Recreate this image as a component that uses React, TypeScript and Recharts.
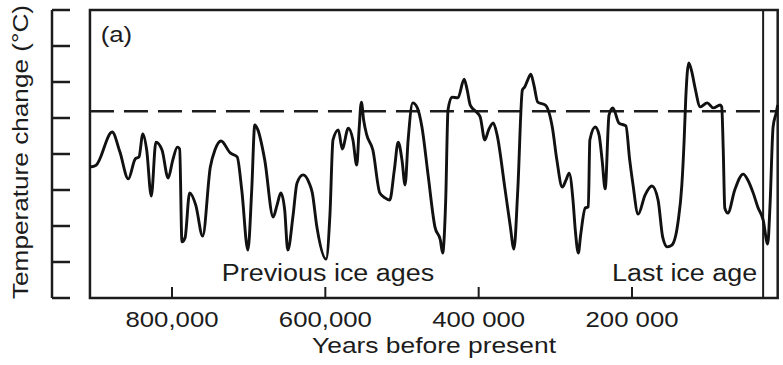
import React from 'react';
import {
  ComposedChart,
  Line,
  XAxis,
  YAxis,
  ReferenceLine,
  ReferenceArea,
  ReferenceDot,
} from 'recharts';

// Years before present, in thousands (left = oldest)
const years = [
  907, 899, 878, 868, 857, 848, 843, 838, 833, 827, 821, 813, 805, 799, 793, 790, 787, 783, 777, 769,
  760, 750, 744, 736, 724, 715, 709, 701, 696, 692, 688, 679, 668, 663, 658, 653, 649, 642, 637, 629,
  621, 617, 611, 599, 594, 590, 583, 578, 570, 564, 559, 556, 553, 550, 546, 538, 529, 522, 516, 510,
  505, 500, 496, 492, 486, 480, 474, 466, 457, 450, 447, 443, 440, 435, 427, 419, 415, 411, 403, 398,
  392, 387, 381, 376, 366, 359, 354, 349, 343, 340, 336, 332, 328, 323, 313, 304, 298, 291, 286, 282,
  277, 274, 270, 267, 261, 257, 255, 248, 243, 239, 235, 230, 225, 217, 208, 203, 199, 192, 183, 174,
  166, 160, 154, 148, 140, 135, 132, 130, 126, 122, 118, 111, 102, 94, 85, 83, 81, 79, 75, 66,
  55, 49, 42, 36, 29, 23, 20, 16, 12, 10,
];

// Temperature change (axis units, one unit per tick)
const temps = [
  3.64, 3.69, 4.61, 4.06, 3.31, 3.86, 3.92, 4.56, 4.11, 2.83, 4.33, 4.11, 3.33, 3.83, 4.19, 4.14, 1.56, 1.67, 2.92, 2.58,
  1.72, 3.64, 4.11, 4.36, 4.03, 3.92, 3.0, 1.33, 3.0, 4.81, 4.67, 3.83, 2.25, 2.58, 2.92, 2.44, 1.33, 2.31, 3.19, 3.42,
  3.19, 2.92, 1.97, 1.08, 2.31, 4.39, 4.67, 4.14, 4.72, 4.39, 3.69, 4.67, 5.44, 4.94, 4.53, 4.11, 2.92, 2.78, 2.72, 3.56,
  4.33, 3.83, 3.14, 4.39, 5.42, 5.28, 4.75, 3.42, 1.97, 1.61, 1.25, 2.72, 5.22, 5.58, 5.56, 6.08, 5.78, 5.36, 5.17, 5.03,
  4.39, 4.67, 4.86, 4.53, 3.08, 2.03, 1.36, 3.0, 5.78, 5.86, 6.06, 6.22, 5.92, 5.44, 5.36, 4.75, 3.83, 3.08, 3.28, 3.47,
  2.72, 1.89, 1.25, 1.75, 2.5, 2.53, 4.39, 4.75, 4.53, 3.83, 3.03, 5.08, 5.28, 4.86, 4.78, 3.83, 3.19, 2.33, 2.86, 3.11,
  2.72, 1.69, 1.42, 1.47, 2.11, 3.14, 4.39, 5.5, 6.53, 6.28, 5.86, 5.31, 5.42, 5.28, 5.36, 5.31, 4.11, 2.5, 2.36, 3.0,
  3.44, 3.28, 2.92, 2.53, 2.17, 1.5, 2.58, 4.75, 5.14, 5.36,
];

const xTicks = [800, 600, 400, 200];
const xTickLabels = ['800,000', '600,000', '400 000', '200 000'];
const yTicks = [0, 1, 2, 3, 4, 5, 6, 7, 8];

const presentLevel = 5.19;
const frameYears = [907, 10];
const markerYear = 29;

const annotations = [
  { text: '(a)', year: 893, value: 7.11, size: 22 },
  { text: 'Previous ice ages', year: 735, value: 0.47, size: 23 },
  { text: 'Last ice age', year: 226, value: 0.47, size: 23 },
];

const data = years.map((y, i) => ({ year: y, temp: temps[i] }));

const FONT = '"Liberation Sans", Arial, Helvetica, sans-serif';
const INK = '#1c1c1c';
const STRETCH = 1.17;

const XTick = (props: any) => {
  const { x, y, payload } = props;
  const idx = xTicks.indexOf(payload.value);
  const label = idx >= 0 ? xTickLabels[idx] : String(payload.value);
  return (
    <g transform={`translate(${x},${y}) scale(${STRETCH},1)`}>
      <text x={0} y={0} textAnchor="middle" fontSize={22} fontFamily={FONT} fill={INK}>
        {label}
      </text>
    </g>
  );
};

const makeAnno = (text: string, size: number) => (props: any) => {
  const vb = props.viewBox || {};
  const x = (vb.x || 0) + (vb.width || 0) / 2;
  const y = (vb.y || 0) + (vb.height || 0) / 2;
  return (
    <g transform={`translate(${x},${y}) scale(${STRETCH},1)`}>
      <text x={0} y={0} textAnchor="start" fontSize={size} fontFamily={FONT} fill={INK}>
        {text}
      </text>
    </g>
  );
};

const YTitle = (props: any) => {
  const vb = props.viewBox || {};
  const cx = (vb.x || 0) + 16;
  const cy = (vb.y || 0) + (vb.height || 0) / 2 - 2;
  return (
    <g transform={`translate(${cx},${cy}) rotate(-90) scale(1.19,1)`}>
      <text x={0} y={0} textAnchor="middle" fontSize={22} fontFamily={FONT} fill={INK}>
        Temperature change (°C)
      </text>
    </g>
  );
};

const XTitle = (props: any) => {
  const vb = props.viewBox || {};
  const cx = (vb.x || 0) + (vb.width || 0) / 2 + 19;
  const cy = (vb.y || 0) + 55;
  return (
    <g transform={`translate(${cx},${cy}) scale(1.2,1)`}>
      <text x={0} y={0} textAnchor="middle" fontSize={22} fontFamily={FONT} fill={INK}>
        Years before present
      </text>
    </g>
  );
};

export default function App() {
  return (
    <div style={{ position: 'absolute', left: 0, top: 0, width: 783, height: 365, background: '#fff' }}>
      <ComposedChart
        width={783}
        height={365}
        data={data}
        margin={{ top: 10, right: 5, left: 12, bottom: 27 }}
      >
        <XAxis
          dataKey="year"
          type="number"
          domain={[9.6, 956.5]}
          reversed
          ticks={xTicks}
          axisLine={false}
          tickSize={-11}
          tickMargin={40}
          tickLine={{ stroke: INK, strokeWidth: 2 }}
          tick={<XTick />}
          height={40}
          label={<XTitle />}
          interval={0}
        />
        <YAxis
          type="number"
          domain={[0, 8]}
          ticks={yTicks}
          width={40}
          tickSize={-18}
          axisLine={{ stroke: INK, strokeWidth: 2.5 }}
          tickLine={{ stroke: INK, strokeWidth: 2.5 }}
          tickFormatter={() => ''}
          label={<YTitle />}
          interval={0}
        />
        <ReferenceArea
          x1={frameYears[0]}
          x2={frameYears[1]}
          y1={0}
          y2={8}
          fill="none"
          stroke={INK}
          strokeWidth={2.5}
          ifOverflow="visible"
        />
        <ReferenceLine
          segment={[
            { x: frameYears[0], y: presentLevel },
            { x: frameYears[1], y: presentLevel },
          ]}
          stroke={INK}
          strokeWidth={2.5}
          strokeDasharray="24 10"
          ifOverflow="visible"
        />
        <ReferenceLine x={markerYear} stroke={INK} strokeWidth={2} />
        <Line
          dataKey="temp"
          type="monotone"
          stroke="#111"
          strokeWidth={2.9}
          dot={false}
          activeDot={false}
          isAnimationActive={false}
        />
        {annotations.map((a) => (
          <ReferenceDot
            key={a.text}
            x={a.year}
            y={a.value}
            r={0}
            fill="none"
            stroke="none"
            ifOverflow="visible"
            label={makeAnno(a.text, a.size)}
          />
        ))}
      </ComposedChart>
    </div>
  );
}
